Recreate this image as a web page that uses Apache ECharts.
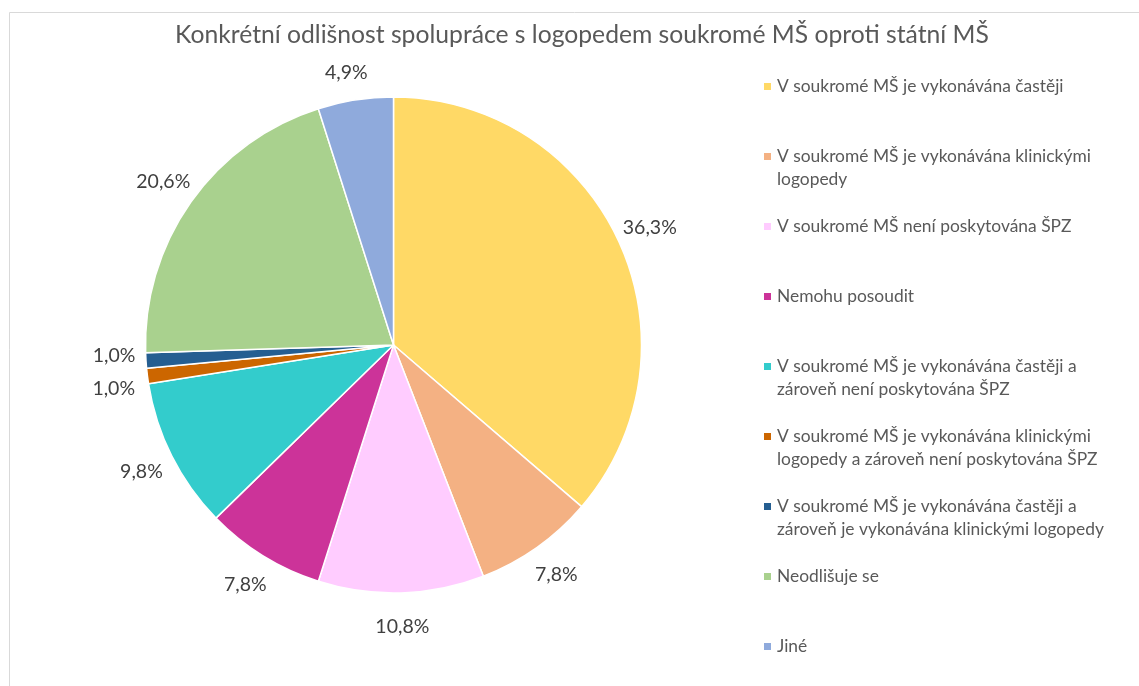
<!DOCTYPE html>
<html>
<head>
<meta charset="utf-8">
<script src="https://cdn.jsdelivr.net/npm/echarts@6/dist/echarts.min.js"></script>
<style>
html,body{margin:0;padding:0;background:#fff;}
#chart{width:1139px;height:686px;}
</style>
</head>
<body>
<div id="chart"></div>
<script>
const titleText = 'Konkrétní odlišnost spolupráce s logopedem soukromé MŠ oproti státní MŠ';
const categories = [
  'V soukromé MŠ je vykonávána častěji',
  'V soukromé MŠ je vykonávána klinickými logopedy',
  'V soukromé MŠ není poskytována ŠPZ',
  'Nemohu posoudit',
  'V soukromé MŠ je vykonávána častěji a zároveň není poskytována ŠPZ',
  'V soukromé MŠ je vykonávána klinickými logopedy a zároveň není poskytována ŠPZ',
  'V soukromé MŠ je vykonávána častěji a zároveň je vykonávána klinickými logopedy',
  'Neodlišuje se',
  'Jiné'
];
const legendLines = [
  'V soukromé MŠ je vykonávána častěji',
  'V soukromé MŠ je vykonávána klinickými\nlogopedy',
  'V soukromé MŠ není poskytována ŠPZ',
  'Nemohu posoudit',
  'V soukromé MŠ je vykonávána častěji a\nzároveň není poskytována ŠPZ',
  'V soukromé MŠ je vykonávána klinickými\nlogopedy a zároveň není poskytována ŠPZ',
  'V soukromé MŠ je vykonávána častěji a\nzároveň je vykonávána klinickými logopedy',
  'Neodlišuje se',
  'Jiné'
];
const percents = [36.3, 7.8, 10.8, 7.8, 9.8, 1.0, 1.0, 20.6, 4.9];
const colors = ['#FFD966', '#F4B183', '#FFCCFF', '#CC3399', '#33CCCC', '#CC6600', '#255E91', '#A9D18E', '#8FAADC'];

const FONT = 'Lato, "Open Sans", sans-serif';
const labelNudge = {5: [0, 8], 6: [2, -7], 8: [-4, 6]};

const pieData = categories.map((c, i) => ({
  name: c, value: percents[i], itemStyle: {color: colors[i]}
}));
const labelData = categories.map((c, i) => ({
  name: c, value: percents[i],
  label: labelNudge[i] ? {offset: labelNudge[i]} : {}
}));
// every legend entry is three text lines tall, with the marker level with the first real line
const legendMap = {};
categories.forEach((c, i) => {
  const t = legendLines[i];
  legendMap[c] = t.indexOf('\n') >= 0 ? '\n' + t : '\n' + t + '\n';
});

const chart = echarts.init(document.getElementById('chart'), null, {renderer: 'canvas'});
chart.setOption({
  backgroundColor: '#fff',
  animation: false,
  title: {
    text: titleText,
    left: 175,
    top: 23,
    padding: 0,
    textStyle: {fontFamily: FONT, fontSize: 24.7, fontWeight: 'normal', color: '#595959'}
  },
  graphic: [{
    type: 'rect', silent: true,
    shape: {x: 9.5, y: 12.5, width: 1130, height: 700},
    style: {fill: 'none', stroke: '#D9D9D9', lineWidth: 1}
  }],
  legend: {
    orient: 'vertical',
    left: 762, top: 52, height: 660,
    padding: 0,
    itemWidth: 9, itemHeight: 9, itemGap: 1,
    icon: 'rect',
    data: categories,
    formatter: name => legendMap[name],
    textStyle: {fontFamily: FONT, fontSize: 17.4, color: '#595959', lineHeight: 23}
  },
  series: [{
    type: 'pie',
    center: [393.5, 345],
    radius: [0, 248],
    startAngle: 90,
    clockwise: true,
    silent: true,
    data: pieData,
    label: {show: false},
    labelLine: {show: false},
    itemStyle: {borderColor: '#fff', borderWidth: 1.5}
  }, {
    type: 'pie',
    center: [393.5, 345],
    radius: [248, 310],
    startAngle: 90,
    clockwise: true,
    silent: true,
    legendHoverLink: false,
    data: labelData,
    itemStyle: {color: 'rgba(0,0,0,0)', borderWidth: 0},
    label: {
      show: true, position: 'inside', rotate: 0,
      formatter: p => p.value.toFixed(1).replace('.', ',') + '%',
      fontFamily: FONT, fontSize: 19.5, color: '#404040'
    },
    labelLine: {show: false}
  }]
});
</script>
</body>
</html>
